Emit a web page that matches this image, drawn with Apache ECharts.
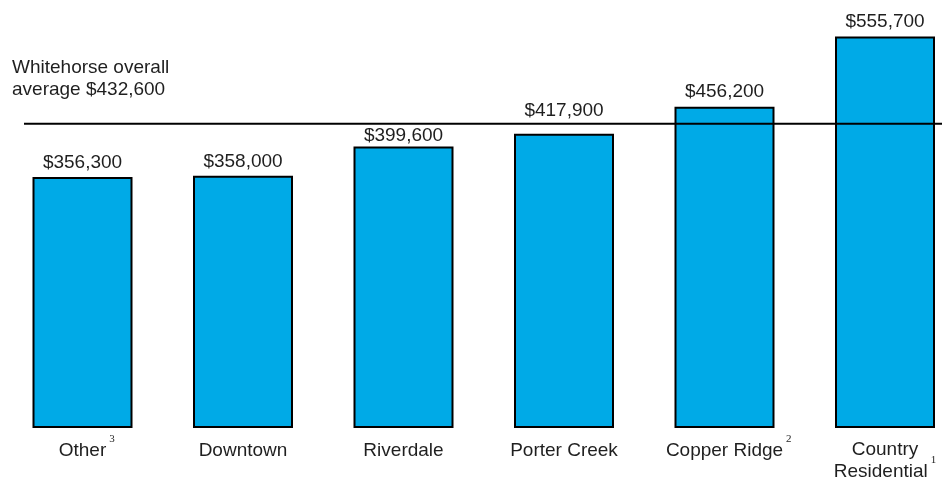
<!DOCTYPE html>
<html>
<head>
<meta charset="utf-8">
<script src="https://cdn.jsdelivr.net/npm/echarts@6/dist/echarts.min.js"></script>
<style>
  html, body { margin: 0; padding: 0; background: #ffffff; }
  #chart { width: 942px; height: 481px; }
</style>
</head>
<body>
<div id="chart"></div>
<script>
// ---- data ----
const categories = ['Other', 'Downtown', 'Riverdale', 'Porter Creek', 'Copper Ridge', 'Country\nResidential'];
const footnotes = ['3', '', '', '', '2', '1'];
const prices = [356300, 358000, 399600, 417900, 456200, 555700];
const overallAverage = 432600;
const averageLabel = 'Whitehorse overall\naverage $432,600';

// ---- helpers ----
const FONT = "'Liberation Sans', Arial, Helvetica, sans-serif";
const SERIF = "'Liberation Serif', 'Times New Roman', serif";
const TEXT = '#1f1f1f';
const fmt = v => '$' + v.toLocaleString('en-US');
const Y_MAX = 600000;

// Each name line that carries a footnote is preceded by a 1px-high "superscript line"
// holding a transparent copy of the name and the visible footnote mark.
function catLabel(value, idx) {
  const sup = footnotes[idx];
  const lines = value.split('\n');
  const out = [];
  lines.forEach((l, i) => {
    const isLast = i === lines.length - 1;
    if (sup && isLast) {
      const left = lines.length === 1 ? '{gl|' + sup + '}' : '';
      out.push(left + '{h|' + l + '}{s|' + sup + '}');
      out.push(left + '{n|' + l + '}{gr|' + sup + '}');
    } else {
      if (i === 0 && lines.length === 1) out.push('{h|' + l + '}');
      out.push('{n|' + l + '}');
    }
  });
  return out.join('\n');
}

const chart = echarts.init(document.getElementById('chart'), null, { renderer: 'canvas' });

const LABEL_DISTANCE = 5;
function avoidAverageLine(params) {
  const r = params.labelRect;
  const lineY = chart.convertToPixel({ yAxisIndex: 0 }, overallAverage);
  const center = r.y + r.height / 2;
  const bottom = r.y + r.height;
  if (lineY > center && lineY < bottom + 2) {
    // line cuts the lower half: lift the label above the line
    return { dy: (lineY - 3) - bottom };
  }
  if (lineY <= center && lineY > r.y - 3) {
    // line grazes the top: nudge the label down, staying above the bar
    return { dy: Math.min(LABEL_DISTANCE, lineY + 3 - r.y) };
  }
  return {};
}

chart.setOption({
  animation: false,
  backgroundColor: '#ffffff',
  title: {
    text: averageLabel,
    left: 12,
    top: 57,
    padding: 0,
    textStyle: {
      fontFamily: FONT,
      fontSize: 19,
      fontWeight: 'normal',
      color: TEXT,
      lineHeight: 22
    }
  },
  grid: [
    { left: 82.5, right: 57, top: 5.4, height: 424, containLabel: false },
    { left: 24, right: 0, top: 5.4, height: 424, containLabel: false }
  ],
  xAxis: [
    {
      type: 'category',
      gridIndex: 0,
      data: categories,
      boundaryGap: false,
      axisLine: { show: false },
      axisTick: { show: false },
      splitLine: { show: false },
      axisLabel: {
        interval: 0,
        margin: 11,
        formatter: catLabel,
        rich: {
          n: { fontFamily: FONT, fontSize: 19, lineHeight: 21, color: TEXT },
          h: { fontFamily: FONT, fontSize: 19, lineHeight: 1, color: 'rgba(0,0,0,0)' },
          s: { fontFamily: SERIF, fontSize: 11, lineHeight: 1, color: TEXT, padding: [0, 0, 0, 3] },
          gl: { fontFamily: SERIF, fontSize: 11, lineHeight: 1, color: 'rgba(0,0,0,0)', padding: [0, 3, 0, 0] },
          gr: { fontFamily: SERIF, fontSize: 11, lineHeight: 1, color: 'rgba(0,0,0,0)', padding: [0, 0, 0, 3] }
        }
      }
    },
    {
      type: 'value',
      gridIndex: 1,
      min: 0,
      max: 1,
      show: false
    }
  ],
  yAxis: [
    { type: 'value', gridIndex: 0, min: 0, max: Y_MAX, show: false, splitLine: { show: false } },
    { type: 'value', gridIndex: 1, min: 0, max: Y_MAX, show: false, splitLine: { show: false } }
  ],
  series: [
    {
      type: 'bar',
      data: prices,
      xAxisIndex: 0,
      yAxisIndex: 0,
      barWidth: 100,
      clip: false,
      itemStyle: {
        color: '#00AAE7',
        borderColor: '#000000',
        borderWidth: 2
      },
      label: {
        show: true,
        position: 'top',
        distance: LABEL_DISTANCE,
        fontFamily: FONT,
        fontSize: 19,
        color: TEXT,
        formatter: p => fmt(p.value)
      },
      labelLayout: avoidAverageLine,
      z: 2
    },
    {
      type: 'line',
      xAxisIndex: 1,
      yAxisIndex: 1,
      data: [[0, overallAverage], [1, overallAverage]],
      symbol: 'none',
      silent: true,
      lineStyle: { color: '#000000', width: 2 },
      z: 5
    }
  ]
});
</script>
</body>
</html>
